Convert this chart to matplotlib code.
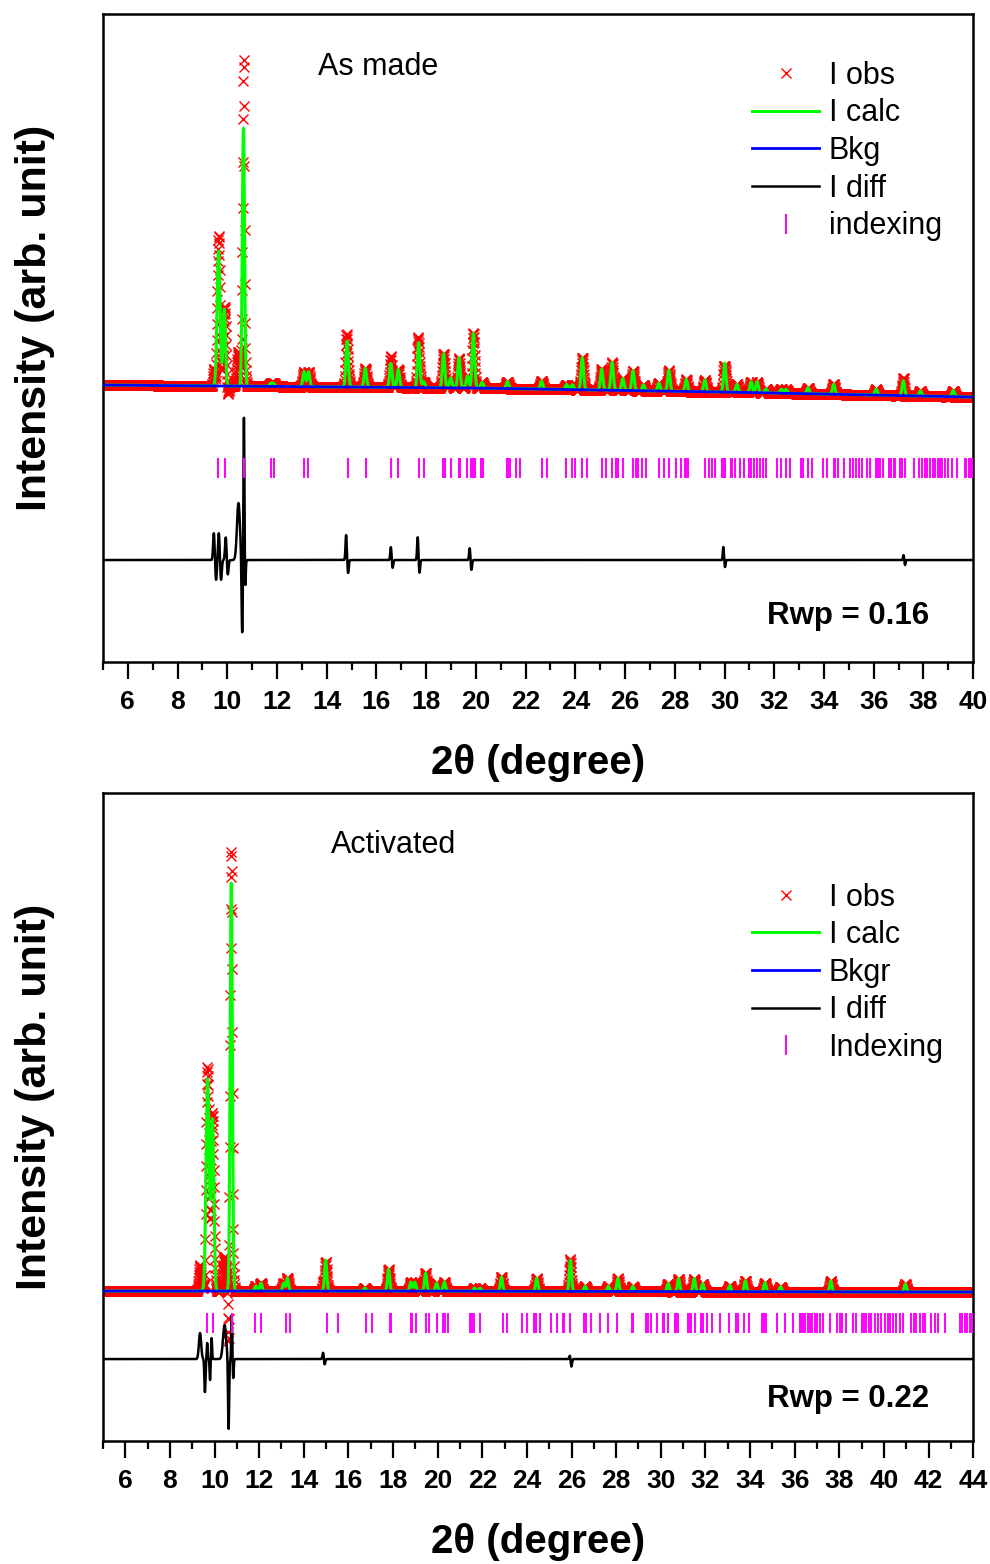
import numpy as np
import matplotlib
matplotlib.use("Agg")
import matplotlib.pyplot as plt
from matplotlib.ticker import MultipleLocator

plt.rcParams["font.family"] = ["Liberation Sans", "DejaVu Sans"]

# ── As made: refined peaks (2θ, height, sigma) ───────────────
made_pos = [9.65, 9.88, 10.65, 11.75, 11.86, 13.09, 13.27, 14.82, 15.55, 16.58,
            16.88, 17.70, 17.90, 18.70, 18.99, 19.32, 19.66, 19.90, 20.25, 21.27,
            22.64, 23.65, 23.88, 24.28, 25.06, 25.48, 25.91, 26.32, 26.74, 27.36,
            27.76, 28.46, 29.21, 30.01, 30.50, 31.07, 31.31, 31.67, 32.29, 32.48,
            33.36, 34.39, 36.10, 37.19, 37.88, 39.20]
made_height = [135, 77, 258, 3, 3, 15, 15, 46, 19, 24,
               18, 45, 6, 34, 10, 30, 12, 55, 6, 7,
               8, 5, 5, 32, 21, 28, 12, 20, 6, 8,
               21, 12, 12, 29, 8, 11, 11, 4, 4, 4,
               6, 10, 6, 15, 5, 6]
made_sigma = [0.06, 0.05, 0.045] + [0.05] * 43

made_bkg_x = [5, 10, 20, 30, 40]
made_bkg_y = [277, 276, 274, 270, 265]

# residual features (2θ, amplitude, sigma)
made_res_pos = [9.46, 9.55, 9.66, 9.75, 9.94, 10.02, 10.45, 10.60, 10.67, 10.72,
                14.78, 14.86, 16.58, 16.65, 17.66, 17.73, 19.75, 19.82, 29.95, 30.02,
                37.20, 37.26]
made_res_amp = [27, -20, 27, -20, 23, -15, 57, -75, 145, -30,
                25, -13, 13, -8, 23, -13, 12, -10, 13, -7,
                5, -5]
made_res_sigma = [0.03, 0.03, 0.03, 0.03, 0.03, 0.03, 0.06, 0.025, 0.02, 0.02,
                  0.025, 0.025, 0.025, 0.025, 0.025, 0.025, 0.025, 0.025, 0.02, 0.02,
                  0.02, 0.02]

made_index = [9.63, 9.90, 10.66, 11.75, 11.86, 13.09, 13.25, 14.84, 15.57, 16.58,
              16.88, 17.71, 17.91, 18.69, 18.75, 18.99, 19.32, 19.36, 19.66, 19.82,
              19.90, 19.95, 20.19, 20.30, 21.24, 21.29, 21.37, 21.60, 21.76, 22.64,
              22.84, 23.64, 23.88, 23.98, 24.28, 24.48, 25.06, 25.22, 25.48, 25.65,
              25.71, 25.91, 26.32, 26.42, 26.53, 26.69, 26.86, 27.36, 27.56, 27.76,
              28.03, 28.23, 28.39, 28.46, 28.53, 29.21, 29.37, 29.50, 29.61, 29.91,
              29.97, 30.01, 30.24, 30.31, 30.44, 30.62, 30.78, 30.98, 31.07, 31.18,
              31.31, 31.42, 31.54, 31.67, 32.12, 32.29, 32.48, 32.65, 33.08, 33.15,
              33.36, 33.50, 33.97, 34.13, 34.39, 34.46, 34.57, 34.80, 35.04, 35.16,
              35.27, 35.40, 35.51, 35.73, 35.87, 36.10, 36.18, 36.27, 36.36, 36.61,
              36.71, 36.81, 36.87, 37.07, 37.14, 37.25, 37.61, 37.84, 37.95, 38.05,
              38.15, 38.28, 38.37, 38.48, 38.59, 38.68, 38.75, 38.88, 38.98, 39.15,
              39.33, 39.66, 39.73, 39.82, 39.89, 39.95]

# ── Activated ────────────────────────────────────────────────
act_pos = [9.69, 9.91, 10.75, 11.85, 12.08, 13.10, 13.27, 14.98, 16.74, 17.80,
           18.80, 18.98, 19.46, 19.95, 20.30, 21.65, 21.90, 22.86, 24.44, 25.95,
           26.61, 27.65, 28.08, 28.75, 30.33, 30.80, 31.50, 31.88, 33.09, 33.79,
           34.67, 35.37, 37.62, 40.96]
act_height = [212, 171, 408, 5, 8, 8, 13, 31, 3, 22,
              9, 9, 18, 8, 9, 3, 3, 14, 13, 31,
              5, 5, 13, 5, 8, 13, 13, 8, 6, 11,
              9, 5, 11, 8]
act_sigma = [0.07, 0.06, 0.05] + [0.05] * 31

act_bkg_x = [5, 20, 44]
act_bkg_y = [150, 150, 149]

act_res_pos = [9.35, 9.57, 9.67, 9.80, 9.87, 10.45, 10.63, 10.77, 10.84,
               14.87, 14.93, 25.93, 25.99]
act_res_amp = [26, -33, 16, -21, 21, 34, -71, 44, -19,
               7, -6, 4, -8]
act_res_sigma = [0.05, 0.025, 0.02, 0.02, 0.02, 0.07, 0.025, 0.02, 0.02,
                 0.03, 0.03, 0.03, 0.03]

act_index = [9.67, 9.94, 10.79, 11.81, 12.08, 13.19, 13.38, 15.02, 15.52, 16.78,
             17.04, 17.86, 17.89, 18.80, 18.86, 19.02, 19.50, 19.62, 19.98, 20.25,
             20.32, 20.47, 21.44, 21.55, 21.64, 21.89, 22.91, 23.09, 23.76, 24.01,
             24.31, 24.40, 24.58, 25.06, 25.36, 25.60, 25.66, 25.92, 26.55, 26.64,
             26.89, 27.27, 27.64, 28.06, 28.69, 28.76, 29.33, 29.43, 29.58, 29.84,
             30.08, 30.14, 30.33, 30.63, 30.70, 30.78, 31.22, 31.30, 31.37, 31.52,
             31.78, 31.87, 32.05, 32.30, 32.64, 33.05, 33.39, 33.46, 33.73, 33.96,
             34.54, 34.63, 34.73, 35.23, 35.56, 35.93, 36.23, 36.30, 36.38, 36.45,
             36.60, 36.68, 36.78, 36.90, 37.02, 37.12, 37.27, 37.57, 37.91, 38.02,
             38.12, 38.32, 38.62, 38.77, 39.02, 39.11, 39.21, 39.32, 39.44, 39.59,
             39.74, 39.86, 40.04, 40.17, 40.26, 40.41, 40.56, 40.71, 40.86, 41.23,
             41.35, 41.45, 41.60, 41.75, 41.83, 42.13, 42.28, 42.43, 42.72, 43.40,
             43.50, 43.62, 43.74, 43.84, 43.95]


def peak_sum(x, pos, amp, sigma):
    y = np.zeros_like(x)
    for p, a, s in zip(pos, amp, sigma):
        y += a * np.exp(-0.5 * ((x - p) / s) ** 2)
    return y


def draw_panel(ax, xmax, peaks, bkg, res, res_scale, index, diff_base, index_y,
               title, title_xy, rwp, rwp_y, labels, legend_anchor):
    tth = np.arange(5, xmax + 0.001, 0.01)
    bkg_line = np.interp(tth, bkg[0], bkg[1])
    calc = bkg_line + peak_sum(tth, *peaks)
    resid = peak_sum(tth, *res)
    obs = calc + res_scale * resid

    ax.plot(tth, obs, ls="none", marker="x", ms=7, mew=1.0, color="#ff0000",
            label=labels[0], zorder=1)
    ax.plot(tth, calc, color="#00ff00", lw=2.2, label=labels[1], zorder=2)
    ax.plot(bkg[0], bkg[1], color="#0000ff", lw=2.0, label=labels[2], zorder=3)
    ax.plot(tth, diff_base + resid, color="black", lw=1.8, label=labels[3], zorder=3)
    ax.plot(index, [index_y] * len(index), ls="none", marker="|", ms=15, mew=1.4,
            color="#ff00ff", label=labels[4], zorder=3)

    ax.set_xlim(5, xmax)
    ax.set_ylim(0, 648)
    ax.set_yticks([])
    ax.xaxis.set_minor_locator(MultipleLocator(1))
    ax.set_xticks(np.arange(6, xmax + 1, 2))
    ax.tick_params(axis="x", which="major", direction="out", length=12, width=1.6,
                   labelsize=19, pad=8)
    ax.tick_params(axis="x", which="minor", direction="out", length=6, width=1.6)
    for lab in ax.get_xticklabels():
        lab.set_fontweight("bold")
    for sp in ax.spines.values():
        sp.set_linewidth(1.8)

    ax.set_xlabel("2θ (degree)", fontsize=29, fontweight="bold", labelpad=22)
    ax.set_ylabel("Intensity (arb. unit)", fontsize=31, fontweight="bold")
    ax.yaxis.set_label_coords(-0.055, 0.531)

    ax.text(title_xy[0], title_xy[1], title, transform=ax.transAxes,
            fontsize=22, ha="center", va="center")
    ax.text(0.949, rwp_y, rwp, transform=ax.transAxes, fontsize=22.5,
            fontweight="bold", ha="right", va="center")

    ax.legend(loc="upper left", bbox_to_anchor=legend_anchor, frameon=False,
              fontsize=22, numpoints=1, handlelength=2.2, handletextpad=0.3,
              labelspacing=0.25, borderaxespad=0, borderpad=0)


fig = plt.figure(figsize=(9.9, 15.64), dpi=100)
ax1 = fig.add_axes([0.104, 0.5767, 0.879, 0.4143])
ax2 = fig.add_axes([0.104, 0.0786, 0.879, 0.4143])

draw_panel(ax1, 40,
           (made_pos, made_height, made_sigma),
           (made_bkg_x, made_bkg_y),
           (made_res_pos, made_res_amp, made_res_sigma), 0.6,
           made_index, 102, 194.5,
           "As made", (0.316, 0.918), "Rwp = 0.16", 0.071,
           ["I obs", "I calc", "Bkg", "I diff", "indexing"],
           (0.746, 0.928))

draw_panel(ax2, 44,
           (act_pos, act_height, act_sigma),
           (act_bkg_x, act_bkg_y),
           (act_res_pos, act_res_amp, act_res_sigma), 1.0,
           act_index, 82, 118,
           "Activated", (0.334, 0.92), "Rwp = 0.22", 0.065,
           ["I obs", "I calc", "Bkgr", "I diff", "Indexing"],
           (0.746, 0.862))

fig.savefig("out.png", dpi=100)
